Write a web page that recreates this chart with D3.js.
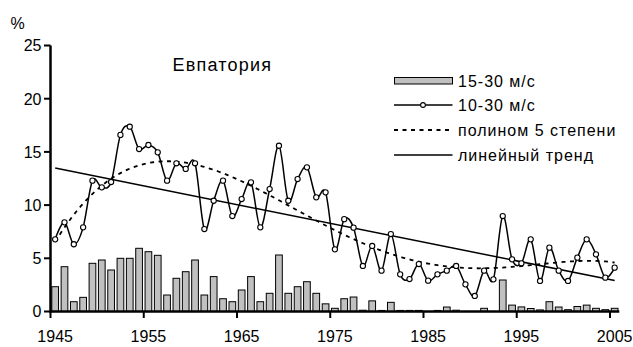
<!DOCTYPE html>
<html><head><meta charset="utf-8">
<script src="https://cdn.jsdelivr.net/npm/d3@7"></script>
<style>
html,body{margin:0;padding:0;background:#fff;}
svg text{font-family:"Liberation Sans",Arial,sans-serif;fill:#000;}
</style></head>
<body>
<svg id="chart" width="633" height="347"></svg>
<script>
// ---- DATA ----
const years = d3.range(1945, 2006);
const xTickYears = [1945, 1955, 1965, 1975, 1985, 1995, 2005];
const yTicks = [0, 5, 10, 15, 20, 25];
const title = "Евпатория";
const unitLabel = "%";
const seriesNames = ["15-30 м/с", "10-30 м/с", "полином 5 степени", "линейный тренд"];
// 15-30 m/s (bars)
const bars1530 = [
  2.33, 4.21, 0.92, 1.33, 4.53, 4.84, 3.9, 5.0, 5.0, 5.94,
  5.62, 5.28, 1.55, 3.12, 3.74, 4.84, 1.55, 3.28, 1.2, 0.92,
  2.02, 3.28, 0.92, 1.71, 5.31, 1.71, 2.33, 2.8, 1.71, 0.72,
  0.3, 1.2, 1.36, 0.12, 1.0, 0.1, 0.86, 0.1, 0.1, 0.1,
  0.0, 0.1, 0.42, 0.12, 0.0, 0.0, 0.3, 0.0, 2.96, 0.6,
  0.43, 0.28, 0.15, 0.92, 0.42, 0.17, 0.47, 0.6, 0.3, 0.17,
  0.3
];
// 10-30 m/s (line with markers)
const line1030 = [
  6.78, 8.38, 6.32, 7.91, 12.3, 11.67, 12.17, 16.6, 17.37, 15.27,
  15.65, 14.96, 12.3, 13.93, 13.4, 13.93, 7.75, 10.41, 12.3, 8.97,
  10.57, 12.14, 7.91, 11.51, 15.58, 10.41, 12.45, 13.55, 10.73, 11.2,
  5.84, 8.68, 7.88, 4.28, 6.16, 3.84, 7.28, 3.49, 3.05, 4.46,
  2.9, 3.49, 3.84, 4.28, 2.55, 1.46, 3.84, 3.02, 8.97, 4.9,
  4.53, 6.78, 2.87, 6.0, 3.84, 2.87, 5.06, 6.78, 5.37, 3.18,
  4.12
];

// ---- FITS (derived from line1030) ----
function linFit(ys){
  const n = ys.length, xs = d3.range(n);
  const mx = d3.mean(xs), my = d3.mean(ys);
  let sxy = 0, sxx = 0;
  for (let i=0;i<n;i++){ sxy += (xs[i]-mx)*(ys[i]-my); sxx += (xs[i]-mx)**2; }
  const b = sxy/sxx, a = my - b*mx;
  return i => a + b*i;
}
function polyFit(ys, deg){
  const n = ys.length, h = (n-1)/2;
  const ts = d3.range(n).map(i => (i-h)/h);
  const m = deg+1;
  const A = Array.from({length:m}, () => new Array(m+1).fill(0));
  for (let r=0;r<m;r++){
    for (let c=0;c<m;c++) A[r][c] = d3.sum(ts, t => Math.pow(t, r+c));
    A[r][m] = d3.sum(ts, (t,i) => ys[i]*Math.pow(t, r));
  }
  for (let c=0;c<m;c++){
    let p = c;
    for (let r=c+1;r<m;r++) if (Math.abs(A[r][c])>Math.abs(A[p][c])) p=r;
    [A[c],A[p]] = [A[p],A[c]];
    for (let r=0;r<m;r++){
      if (r===c) continue;
      const f = A[r][c]/A[c][c];
      for (let k=c;k<=m;k++) A[r][k] -= f*A[c][k];
    }
  }
  const coef = d3.range(m).map(r => A[r][m]/A[r][r]);
  return i => { const t=(i-h)/h; return coef.reduce((s,cf,k)=>s+cf*Math.pow(t,k),0); };
}

// ---- CHART ----
const svg = d3.select("#chart");
const x = d3.scaleBand().domain(years).range([50.5, 619.3]).paddingInner(0).paddingOuter(0);
const y = d3.scaleLinear().domain([0, 25]).range([311.5, 45.5]);
const bw = x.bandwidth();
const cx = yr => x(yr) + bw/2;
const xi = d3.scaleLinear().domain([0, years.length-1]).range([cx(years[0]), cx(years[years.length-1])]);

// bars
svg.append("g").selectAll("rect").data(years).join("rect")
  .attr("x", d => cx(d) - bw*0.36)
  .attr("width", bw*0.72)
  .attr("y", (d,i) => y(bars1530[i]))
  .attr("height", (d,i) => y(0) - y(bars1530[i]))
  .attr("fill", "#c0c0c0").attr("stroke", "#000").attr("stroke-width", 1);

// polynomial trend
const pf = polyFit(line1030, 5);
const polyPts = d3.range(0, years.length-1+0.001, 0.25).map(i => [xi(i), y(pf(i))]);
svg.append("path").attr("d", d3.line()(polyPts))
  .attr("fill","none").attr("stroke","#000").attr("stroke-width",1.8).attr("stroke-dasharray","4,4.5");

// linear trend
const lf = linFit(line1030);
svg.append("line")
  .attr("x1", xi(0)).attr("y1", y(lf(0)))
  .attr("x2", xi(years.length-1)).attr("y2", y(lf(years.length-1)))
  .attr("stroke","#000").attr("stroke-width",1.5);

// data line
const pts = years.map((yr,i) => [cx(yr), y(line1030[i])]);
svg.append("path").attr("d", d3.line().curve(d3.curveCatmullRom.alpha(0))(pts))
  .attr("fill","none").attr("stroke","#000").attr("stroke-width",1.5);
svg.append("g").selectAll("circle").data(pts).join("circle")
  .attr("cx", d => d[0]).attr("cy", d => d[1]).attr("r", 2.6)
  .attr("fill","#fff").attr("stroke","#000").attr("stroke-width",1.1);

// axes
const gy = svg.append("g");
gy.append("line").attr("x1",50.5).attr("x2",50.5).attr("y1",y(25)).attr("y2",y(0)+1)
  .attr("stroke","#000").attr("stroke-width",2.5);
gy.selectAll("line.t").data(yTicks).join("line").attr("class","t")
  .attr("x1",44).attr("x2",50.5).attr("y1",d=>y(d)).attr("y2",d=>y(d))
  .attr("stroke","#000").attr("stroke-width",2);
gy.selectAll("text").data(yTicks).join("text")
  .attr("x",41.5).attr("y",d=>y(d)+5.8).attr("text-anchor","end")
  .attr("font-size",16).text(d=>d);

const gx = svg.append("g");
gx.append("line").attr("x1",49.3).attr("x2",619.3).attr("y1",y(0)).attr("y2",y(0))
  .attr("stroke","#000").attr("stroke-width",2.5);
gx.selectAll("line.t").data(xTickYears).join("line").attr("class","t")
  .attr("x1",d=>x(d)).attr("x2",d=>x(d)).attr("y1",y(0)).attr("y2",y(0)+6.5)
  .attr("stroke","#000").attr("stroke-width",2);
gx.selectAll("text").data(xTickYears).join("text")
  .attr("x",d=>cx(d)).attr("y",341.5).attr("text-anchor","middle")
  .attr("font-size",16).text(d=>d);

svg.append("text").attr("x",10.5).attr("y",29).attr("font-size",16).text(unitLabel);
svg.append("text").attr("x",172.5).attr("y",70.7).attr("font-size",18)
  .attr("letter-spacing",1.2).text(title);

// legend
const lg = svg.append("g");
const rows = [80.7, 105, 130, 155];
lg.append("rect").attr("x",394.5).attr("y",77.5).attr("width",58).attr("height",6.5)
  .attr("fill","#c0c0c0").attr("stroke","#000").attr("stroke-width",1);
lg.append("line").attr("x1",394).attr("x2",452.5).attr("y1",rows[1]).attr("y2",rows[1])
  .attr("stroke","#000").attr("stroke-width",1.5);
lg.append("circle").attr("cx",423).attr("cy",rows[1]).attr("r",2.4)
  .attr("fill","#fff").attr("stroke","#000").attr("stroke-width",1.1);
lg.append("line").attr("x1",394).attr("x2",452.5).attr("y1",rows[2]).attr("y2",rows[2])
  .attr("stroke","#000").attr("stroke-width",1.8).attr("stroke-dasharray","4,4.5");
lg.append("line").attr("x1",394).attr("x2",452.5).attr("y1",rows[3]).attr("y2",rows[3])
  .attr("stroke","#000").attr("stroke-width",1.5);
lg.selectAll("text").data(seriesNames).join("text")
  .attr("x",458).attr("y",(d,i)=>rows[i]+6).attr("font-size",16)
  .attr("letter-spacing",1).text(d=>d);
</script>
</body></html>
